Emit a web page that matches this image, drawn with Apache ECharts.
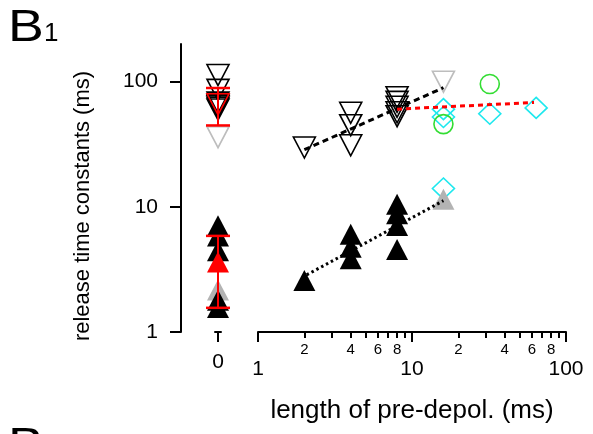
<!DOCTYPE html>
<html>
<head>
<meta charset="utf-8">
<script src="https://cdn.jsdelivr.net/npm/echarts@6/dist/echarts.min.js"></script>
<style>
html, body { margin: 0; padding: 0; background: #fff; }
#chart { width: 593px; height: 434px; }
</style>
</head>
<body>
<div id="chart"></div>
<script>
// values (ms)
const zeroOpen = [113, 86, 68, 65, 63.5, 62, 60];
const zeroOpenGrey = [36];
const zeroOpenMean = [66];
const zeroOpenErr = [44.7, 89];
const zeroFilled = [7.05, 5.86, 4.45, 1.79, 1.57];
const zeroFilledGrey = [2.17];
const zeroFilledMean = [3.63];
const zeroFilledErr = [1.56, 5.86];

const openX = [2, 4, 4, 4, 8, 8, 8, 8, 8];
const openY = [29.8, 56.4, 44.9, 31, 75, 69, 63, 57, 53];
const openGreyX = [16];
const openGreyY = [100];
const filledX = [2, 4, 4, 4, 8, 8, 8, 8];
const filledY = [2.58, 6.05, 4.76, 3.84, 10.5, 8.8, 7.1, 4.57];
const filledGreyX = [16];
const filledGreyY = [11.5];
const diamondX = [16, 16, 32, 64, 16];
const diamondY = [60.3, 52.2, 55.5, 61.7, 14];
const circleX = [32, 16];
const circleY = [95.8, 45.8];

const openFitX = [2, 16];
const openFitY = [28.6, 89.5];
const redFitX = [8, 62];
const redFitY = [60.3, 68.2];
const filledFitX = [2.07, 16];
const filledFitY = [2.86, 11.2];

const yTickLabels = [1, 10, 100];
const minorTicks = [2, 3, 4, 5, 6, 7, 8, 9, 20, 30, 40, 50, 60, 70, 80, 90];
const minorTickLabels = [2, 4, 6, 8, 20, 40, 60, 80];

const FONT = 'Liberation Sans';
const GREY = '#bdbdbd';
const CYAN = '#1ee8ee';
const GREEN = '#33dd33';

const pairs = (xs, ys) => xs.map((x, i) => [x, ys[i]]);
const atZero = (ys) => ys.map((y) => [0, y]);

function marker(name, grid, data, opts) {
    return Object.assign({
        name: name,
        type: 'scatter',
        xAxisIndex: grid,
        yAxisIndex: grid,
        data: data,
        clip: false,
        silent: true,
    }, opts);
}

const openTri = (color) => ({
    symbol: 'triangle', symbolRotate: 180, symbolSize: [22, 21],
    itemStyle: {color: 'rgba(0,0,0,0)', borderColor: color, borderWidth: 1.6, opacity: 1},
});
const filledTri = (color) => ({
    symbol: 'triangle', symbolSize: [22, 21],
    itemStyle: {color: color, borderWidth: 0, opacity: 1},
});

function fitLine(name, data, color, dash) {
    return {
        name: name,
        type: 'line',
        xAxisIndex: 1,
        yAxisIndex: 1,
        data: data,
        symbol: 'none',
        silent: true,
        z: 5,
        lineStyle: {color: color, width: 3, type: dash, opacity: 1},
    };
}

function renderErrorBar(params, api) {
    const x = api.value(0);
    const lo = api.coord([x, api.value(1)]);
    const hi = api.coord([x, api.value(2)]);
    const half = 12;
    const style = {stroke: '#ff0000', lineWidth: 2.5};
    return {
        type: 'group',
        children: [
            {type: 'line', shape: {x1: lo[0], y1: lo[1], x2: hi[0], y2: hi[1]}, style: {stroke: '#ff0000', lineWidth: 2}},
            {type: 'line', shape: {x1: lo[0] - half, y1: lo[1], x2: lo[0] + half, y2: lo[1]}, style: style},
            {type: 'line', shape: {x1: hi[0] - half, y1: hi[1], x2: hi[0] + half, y2: hi[1]}, style: style},
        ],
    };
}

const chart = echarts.init(document.getElementById('chart'), null, {renderer: 'canvas'});

chart.setOption({
    animation: false,
    textStyle: {fontFamily: FONT, color: '#000'},
    grid: [
        {left: 215, width: 6, top: 44, bottom: 102},
        {left: 258, right: 27, top: 44, bottom: 102},
    ],
    xAxis: [
        {
            gridIndex: 0, type: 'value', position: 'bottom', min: -1, max: 1,
            axisLine: {onZero: false, lineStyle: {color: '#000', width: 2}},
            axisTick: {customValues: [0], length: 10, lineStyle: {color: '#000', width: 2}},
            axisLabel: {customValues: [0], margin: 20, fontSize: 21, color: '#000', fontFamily: FONT},
            splitLine: {show: false},
        },
        {
            gridIndex: 1, type: 'log', logBase: 10, position: 'bottom', min: 1, max: 100,
            axisLine: {onZero: false, lineStyle: {color: '#000', width: 2}},
            axisTick: {length: 10, lineStyle: {color: '#000', width: 2}},
            axisLabel: {margin: 27, fontSize: 21, color: '#000', fontFamily: FONT},
            splitLine: {show: false},
            minorTick: {show: false},
            name: 'length of pre-depol. (ms)',
            nameLocation: 'middle',
            nameGap: 66,
            nameTextStyle: {fontSize: 26, color: '#000', fontFamily: FONT},
        },
        {
            // minor decade ticks, laid over the log axis in log10 units
            gridIndex: 1, type: 'value', position: 'bottom', min: 0, max: 2,
            axisLine: {show: false, onZero: false},
            axisTick: {customValues: minorTicks.map(Math.log10), length: 6, lineStyle: {color: '#000', width: 2}},
            axisLabel: {
                customValues: minorTickLabels.map(Math.log10),
                margin: 10, fontSize: 15, color: '#000', fontFamily: FONT,
                formatter: (v) => {
                    const n = Math.round(Math.pow(10, v));
                    return String(n >= 10 ? n / 10 : n);
                },
            },
            splitLine: {show: false},
        },
    ],
    yAxis: [
        {gridIndex: 0, type: 'log', position: 'left', min: 1, max: 200, show: false, splitLine: {show: false}},
        {gridIndex: 1, type: 'log', position: 'left', min: 1, max: 200, show: false, splitLine: {show: false}},
        {
            // visible axis in log10 units, drawn left of the x = 0 column
            gridIndex: 0, type: 'value', position: 'left', offset: 34,
            min: 0, max: Math.log10(200),
            axisLine: {onZero: false, lineStyle: {color: '#000', width: 2}},
            axisTick: {customValues: yTickLabels.map(Math.log10), length: 11, lineStyle: {color: '#000', width: 2}},
            axisLabel: {
                customValues: yTickLabels.map(Math.log10),
                margin: 23, fontSize: 21, color: '#000', fontFamily: FONT,
                formatter: (v) => String(Math.round(Math.pow(10, v))),
            },
            splitLine: {show: false},
        },
    ],
    graphic: [
        {type: 'text', x: 8, y: 7, scaleX: 1.22, style: {text: 'B', font: '44px "Liberation Sans"', fill: '#000'}},
        {type: 'text', x: 44, y: 21, style: {text: '1', font: '26px "Liberation Sans"', fill: '#000'}},
        {type: 'text', x: 8, y: 425, scaleX: 1.22, style: {text: 'B', font: '44px "Liberation Sans"', fill: '#000'}},
        {
            type: 'text', x: 83, y: 206, rotation: Math.PI / 2,
            style: {
                text: 'release time constants (ms)', font: '22px "Liberation Sans"', fill: '#000',
                align: 'center', verticalAlign: 'middle',
            },
        },
    ],
    series: [
        // x = 0 column
        marker('zeroOpenGrey', 0, atZero(zeroOpenGrey), openTri(GREY)),
        marker('zeroOpen', 0, atZero(zeroOpen), openTri('#000')),
        marker('zeroFilledGrey', 0, atZero(zeroFilledGrey), filledTri('#b3b3b3')),
        marker('zeroFilled', 0, atZero(zeroFilled), filledTri('#000')),
        marker('zeroOpenMean', 0, atZero(zeroOpenMean), openTri('#ff0000')),
        marker('zeroFilledMean', 0, atZero(zeroFilledMean), filledTri('#ff0000')),
        {
            name: 'errorBars',
            type: 'custom',
            xAxisIndex: 0,
            yAxisIndex: 0,
            clip: false,
            silent: true,
            z: 4,
            encode: {x: 0, y: [1, 2]},
            data: [[0].concat(zeroOpenErr), [0].concat(zeroFilledErr)],
            renderItem: renderErrorBar,
        },
        // pre-depolarisation lengths
        marker('openGrey', 1, pairs(openGreyX, openGreyY), openTri(GREY)),
        marker('open', 1, pairs(openX, openY), openTri('#000')),
        marker('diamond', 1, pairs(diamondX, diamondY), {
            symbol: 'diamond', symbolSize: [22, 21],
            itemStyle: {color: 'rgba(0,0,0,0)', borderColor: CYAN, borderWidth: 1.6, opacity: 1},
        }),
        marker('circle', 1, pairs(circleX, circleY), {
            symbol: 'circle', symbolSize: 19,
            itemStyle: {color: 'rgba(0,0,0,0)', borderColor: GREEN, borderWidth: 1.6, opacity: 1},
        }),
        marker('filledGrey', 1, pairs(filledGreyX, filledGreyY), filledTri('#b3b3b3')),
        marker('filled', 1, pairs(filledX, filledY), filledTri('#000')),
        fitLine('openFit', pairs(openFitX, openFitY), '#000', [6, 4]),
        fitLine('redFit', pairs(redFitX, redFitY), '#ff0000', [5, 4]),
        fitLine('filledFit', pairs(filledFitX, filledFitY), '#000', [2.5, 3]),
    ],
});
</script>
</body>
</html>
